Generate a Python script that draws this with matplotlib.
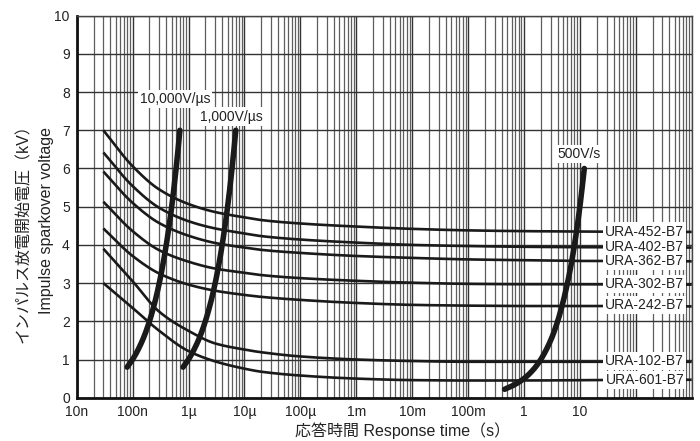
import numpy as np
import matplotlib
matplotlib.use("Agg")
import matplotlib.pyplot as plt
from matplotlib.ticker import FixedLocator, FixedFormatter, LogLocator, NullFormatter

# ---------------- data ----------------
t_pts = [3e-8, 1e-7, 3e-7, 1e-6, 3e-6, 1e-5, 2e-5, 1e-4, 1e-3, 1e-2, 1e-1, 1, 10, 100, 1000]
names = ["URA-452-B7", "URA-402-B7", "URA-362-B7", "URA-302-B7", "URA-242-B7", "URA-102-B7", "URA-601-B7"]
v452 = [7.00, 6.06, 5.45, 5.07, 4.86, 4.72, 4.65, 4.56, 4.48, 4.42, 4.38, 4.36, 4.35, 4.34, 4.34]
v402 = [6.42, 5.54, 4.97, 4.62, 4.43, 4.30, 4.23, 4.14, 4.06, 4.00, 3.97, 3.95, 3.94, 3.94, 3.93]
v362 = [5.92, 5.10, 4.57, 4.24, 4.05, 3.93, 3.87, 3.79, 3.71, 3.66, 3.62, 3.60, 3.58, 3.58, 3.57]
v302 = [5.13, 4.36, 3.86, 3.56, 3.38, 3.27, 3.21, 3.13, 3.06, 3.01, 2.98, 2.97, 2.97, 2.96, 2.96]
v242 = [4.43, 3.71, 3.25, 2.96, 2.80, 2.69, 2.64, 2.56, 2.48, 2.43, 2.41, 2.40, 2.40, 2.40, 2.39]
v102 = [3.90, 3.05, 2.25, 1.75, 1.42, 1.26, 1.19, 1.08, 1.00, 0.96, 0.94, 0.94, 0.94, 0.94, 0.94]
v601 = [3.00, 2.35, 1.75, 1.22, 0.95, 0.76, 0.68, 0.58, 0.50, 0.46, 0.45, 0.45, 0.46, 0.47, 0.47]
label_kv = [4.35, 3.94, 3.58, 2.98, 2.43, 0.95, 0.47]

# rate-of-rise lines
kv_fast = [0.8, 1.0, 1.5, 2.0, 2.5, 3.0, 3.5, 4.0, 4.5, 5.0, 5.5, 6.0, 6.5, 7.0]
t_10000 = [80e-9, 100e-9, 150e-9, 200e-9, 250e-9, 300e-9, 350e-9, 400e-9, 450e-9, 500e-9,
           550e-9, 600e-9, 650e-9, 700e-9]
t_1000 = [0.8e-6, 1.0e-6, 1.5e-6, 2.0e-6, 2.5e-6, 3.0e-6, 3.5e-6, 4.0e-6, 4.5e-6, 5.0e-6,
          5.5e-6, 6.0e-6, 6.5e-6, 7.0e-6]
kv_500 = [0.22, 0.3, 0.5, 0.75, 1.0, 1.5, 2.0, 3.0, 4.0, 5.0, 6.0]
t_500 = [0.45, 0.6, 1.0, 1.5, 2.0, 3.0, 4.0, 6.0, 8.0, 10.0, 12.0]
rate_labels = ["10,000V/µs", "1,000V/µs", "500V/s"]

xtick_vals = [1e-8, 1e-7, 1e-6, 1e-5, 1e-4, 1e-3, 1e-2, 1e-1, 1, 10]
xtick_text = ["10n", "100n", "1µ", "10µ", "100µ", "1m", "10m", "100m", "1", "10"]
ytick_vals = list(range(0, 11))


def pchip(x, y, xn):
    x = np.asarray(x, float); y = np.asarray(y, float)
    h = np.diff(x); d = np.diff(y) / h
    m = np.zeros_like(y)
    m[0], m[-1] = d[0], d[-1]
    for k in range(1, len(x) - 1):
        if d[k - 1] * d[k] > 0:
            w1 = 2 * h[k] + h[k - 1]; w2 = h[k] + 2 * h[k - 1]
            m[k] = (w1 + w2) / (w1 / d[k - 1] + w2 / d[k])
    idx = np.clip(np.searchsorted(x, xn) - 1, 0, len(x) - 2)
    hk = h[idx]; s = (xn - x[idx]) / hk
    h00 = 2 * s**3 - 3 * s**2 + 1; h10 = s**3 - 2 * s**2 + s
    h01 = -2 * s**3 + 3 * s**2; h11 = s**3 - s**2
    return h00 * y[idx] + h10 * hk * m[idx] + h01 * y[idx + 1] + h11 * hk * m[idx + 1]


def smooth(t, v, n=300):
    lt = np.log10(t)
    ln = np.linspace(lt[0], lt[-1], n)
    return 10 ** ln, pchip(lt, v, ln)


LAT = ["Liberation Sans", "Noto Sans CJK JP"]
plt.rcParams["font.family"] = LAT

fig = plt.figure(figsize=(7.0, 4.41), dpi=100)
ax = fig.add_axes([76.7 / 700, 1 - 397.7 / 441, (691.7 - 76.7) / 700, (397.7 - 15.7) / 441])
ax.set_xscale("log")
ax.set_xlim(1e-8, 1e3)
ax.set_ylim(0, 10)

# grid
ax.xaxis.set_major_locator(FixedLocator(xtick_vals))
ax.xaxis.set_major_formatter(FixedFormatter(xtick_text))
ax.xaxis.set_minor_locator(LogLocator(base=10, subs=np.arange(2, 10), numticks=30))
ax.xaxis.set_minor_formatter(NullFormatter())
ax.yaxis.set_major_locator(FixedLocator(ytick_vals))
ax.set_yticklabels([str(v) for v in ytick_vals])
ax.grid(which="major", axis="x", color="#333333", lw=1.0, zorder=0)
ax.grid(which="minor", axis="x", color="#5e5e5e", lw=0.9, zorder=0)
ax.grid(which="major", axis="y", color="#333333", lw=1.0, zorder=0)
for xv in [100, 1000]:
    ax.axvline(xv, color="#333333", lw=1.0, zorder=0)
ax.set_axisbelow(True)
ax.tick_params(which="both", length=0)
ax.tick_params(axis="x", pad=5.5, labelsize=10, colors="#222222")
ax.tick_params(axis="y", pad=5, labelsize=10, colors="#222222")

for s in ["left", "bottom"]:
    ax.spines[s].set_linewidth(2.0)
    ax.spines[s].set_color("#111111")
for s in ["top", "right"]:
    ax.spines[s].set_linewidth(1.0)
    ax.spines[s].set_color("#444444")

# varistor curves
series = [v452, v402, v362, v302, v242, v102, v601]
for v in series:
    xs, ys = smooth(t_pts, v)
    ax.plot(xs, ys, color="#1a1a1a", lw=1.9, zorder=3, solid_capstyle="butt")

# rate lines
for tt, kv in [(t_10000, kv_fast), (t_1000, kv_fast), (t_500, kv_500)]:
    xs, ys = smooth(tt, kv)
    ax.plot(xs, ys, color="#1a1a1a", lw=4.0, zorder=4, solid_capstyle="round")

# series labels on right
for name, kv in zip(names, label_kv):
    ax.text(10 ** 2.865, kv, name, ha="right", va="center", fontsize=10, color="#222222",
            zorder=6, bbox=dict(boxstyle="square,pad=0.15", fc="white", ec="none"))

# rate labels
rate_pos = [(10 ** -6.87, 7.82), (10 ** -5.79, 7.36), (10 ** 0.60, 6.38)]
for txt, (x, y) in zip(rate_labels, rate_pos):
    ax.text(x, y, txt, ha="left", va="center", fontsize=10, color="#222222", zorder=6,
            bbox=dict(boxstyle="square,pad=0.15", fc="white", ec="none"))

# axis labels
fig.text(403 / 700, 1 - 430.5 / 441, "応答時間 Response time（s）", ha="center", va="center",
         fontsize=11.5, color="#222222", family=LAT)
fig.text(23 / 700, 1 - 230 / 441, "インパルス放電開始電圧（kV）", ha="center", va="center",
         rotation=90, fontsize=11.5, color="#222222", family=LAT)
fig.text(47 / 700, 1 - 220 / 441, "Impulse sparkover voltage", ha="center", va="center",
         rotation=90, fontsize=11.5, color="#222222", family=LAT)

fig.savefig("out.png", dpi=100)
